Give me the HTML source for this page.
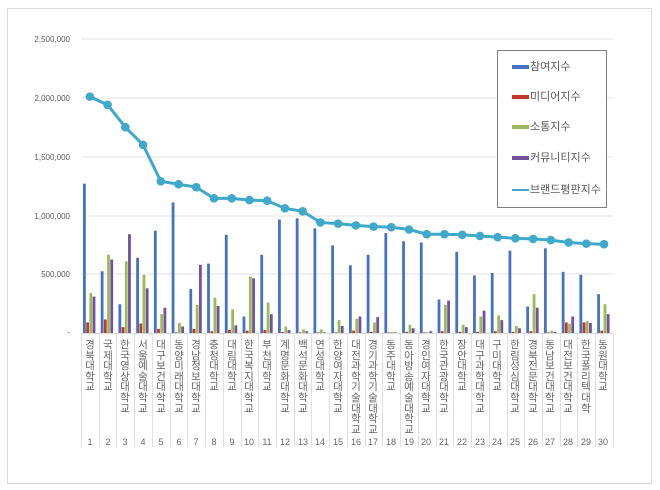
<!DOCTYPE html>
<html><head><meta charset="utf-8">
<style>
body{margin:0;background:#fff;width:660px;height:490px;overflow:hidden;font-family:"Liberation Sans","Noto Sans CJK KR",sans-serif;}
#frame{position:absolute;left:7px;top:8px;width:643px;height:474px;border:1px solid #d9d9d9;}
.yl{position:absolute;left:20px;width:50px;text-align:right;font-size:8px;color:#595959;}
.cl{position:absolute;top:340px;width:18px;text-align:center;font-size:10.5px;line-height:10.6px;color:#666;}
.num{position:absolute;top:437px;width:18px;text-align:center;font-size:9px;color:#666;}
#legend{position:absolute;left:497px;top:50px;width:108px;height:156px;border:1px solid #7f7f7f;background:#fff;font-size:11px;color:#595959;}
#legend div{position:absolute;left:14px;height:12px;line-height:12px;}
#legend span.sw{display:inline-block;width:17px;height:4px;vertical-align:middle;margin-right:1px;}
</style></head><body>
<div id="frame"></div>
<svg id="s" width="660" height="490" style="position:absolute;left:0;top:0"></svg>
<div class="yl" style="top:35px">2,500,000</div>
<div class="yl" style="top:94px">2,000,000</div>
<div class="yl" style="top:153px">1,500,000</div>
<div class="yl" style="top:212px">1,000,000</div>
<div class="yl" style="top:270px">500,000</div>
<div class="yl" style="top:328px">-</div>
<div class="cl" style="left:81px">경<br>북<br>대<br>학<br>교</div>
<div class="cl" style="left:99px">국<br>제<br>대<br>학<br>교</div>
<div class="cl" style="left:116px">한<br>국<br>영<br>상<br>대<br>학<br>교</div>
<div class="cl" style="left:134px">서<br>울<br>예<br>술<br>대<br>학<br>교</div>
<div class="cl" style="left:152px">대<br>구<br>보<br>건<br>대<br>학<br>교</div>
<div class="cl" style="left:170px">동<br>양<br>미<br>래<br>대<br>학<br>교</div>
<div class="cl" style="left:187px">경<br>남<br>정<br>보<br>대<br>학<br>교</div>
<div class="cl" style="left:205px">충<br>청<br>대<br>학<br>교</div>
<div class="cl" style="left:223px">대<br>림<br>대<br>학<br>교</div>
<div class="cl" style="left:240px">한<br>국<br>복<br>지<br>대<br>학<br>교</div>
<div class="cl" style="left:258px">부<br>천<br>대<br>학<br>교</div>
<div class="cl" style="left:276px">계<br>명<br>문<br>화<br>대<br>학<br>교</div>
<div class="cl" style="left:294px">백<br>석<br>문<br>화<br>대<br>학<br>교</div>
<div class="cl" style="left:311px">연<br>성<br>대<br>학<br>교</div>
<div class="cl" style="left:329px">한<br>양<br>여<br>자<br>대<br>학<br>교</div>
<div class="cl" style="left:347px">대<br>전<br>과<br>학<br>기<br>술<br>대<br>학<br>교</div>
<div class="cl" style="left:364px">경<br>기<br>과<br>학<br>기<br>술<br>대<br>학<br>교</div>
<div class="cl" style="left:382px">동<br>주<br>대<br>학<br>교</div>
<div class="cl" style="left:400px">동<br>아<br>방<br>송<br>예<br>술<br>대<br>학<br>교</div>
<div class="cl" style="left:417px">경<br>인<br>여<br>자<br>대<br>학<br>교</div>
<div class="cl" style="left:435px">한<br>국<br>관<br>광<br>대<br>학<br>교</div>
<div class="cl" style="left:453px">장<br>안<br>대<br>학<br>교</div>
<div class="cl" style="left:471px">대<br>구<br>과<br>학<br>대<br>학<br>교</div>
<div class="cl" style="left:488px">구<br>미<br>대<br>학<br>교</div>
<div class="cl" style="left:506px">한<br>림<br>성<br>심<br>대<br>학<br>교</div>
<div class="cl" style="left:524px">경<br>북<br>전<br>문<br>대<br>학<br>교</div>
<div class="cl" style="left:541px">동<br>남<br>보<br>건<br>대<br>학<br>교</div>
<div class="cl" style="left:559px">대<br>전<br>보<br>건<br>대<br>학<br>교</div>
<div class="cl" style="left:577px">한<br>국<br>폴<br>리<br>텍<br>대<br>학</div>
<div class="cl" style="left:594px">동<br>원<br>대<br>학<br>교</div>
<div class="num" style="left:81px">1</div><div class="num" style="left:99px">2</div><div class="num" style="left:116px">3</div><div class="num" style="left:134px">4</div><div class="num" style="left:152px">5</div><div class="num" style="left:170px">6</div><div class="num" style="left:187px">7</div><div class="num" style="left:205px">8</div><div class="num" style="left:223px">9</div><div class="num" style="left:240px">10</div><div class="num" style="left:258px">11</div><div class="num" style="left:276px">12</div><div class="num" style="left:294px">13</div><div class="num" style="left:311px">14</div><div class="num" style="left:329px">15</div><div class="num" style="left:347px">16</div><div class="num" style="left:364px">17</div><div class="num" style="left:382px">18</div><div class="num" style="left:400px">19</div><div class="num" style="left:417px">20</div><div class="num" style="left:435px">21</div><div class="num" style="left:453px">22</div><div class="num" style="left:471px">23</div><div class="num" style="left:488px">24</div><div class="num" style="left:506px">25</div><div class="num" style="left:524px">26</div><div class="num" style="left:541px">27</div><div class="num" style="left:559px">28</div><div class="num" style="left:577px">29</div><div class="num" style="left:594px">30</div>
<div id="legend">
<div style="top:10px"><span class="sw" style="background:#4472c4"></span>참여지수</div>
<div style="top:40px"><span class="sw" style="background:#c0392b"></span>미디어지수</div>
<div style="top:70px"><span class="sw" style="background:#9bbb59"></span>소통지수</div>
<div style="top:101px"><span class="sw" style="background:#7151a0"></span>커뮤니티지수</div>
<div style="top:133px"><span class="sw" style="background:#3ea9c9;height:2px;position:relative"></span>브랜드평판지수</div>
</div>
<script>
var s=document.getElementById('s'),h='';
var x0=81,w=17.73,y0=333,sc=294/2500000;
[39,98,157,216,274].forEach(function(y){h+='<line x1="81" x2="613" y1="'+y+'" y2="'+y+'" stroke="#e3e3e3" stroke-width="1"/>';});
for(var i=0;i<=30;i++){var x=Math.round(x0+i*w)+0.5;h+='<line x1="'+x+'" x2="'+x+'" y1="333" y2="447" stroke="#e0e0e0"/>';}
h+='<line x1="81" x2="613" y1="333.5" y2="333.5" stroke="#d9d9d9"/>';
var B=[1270,525,245,640,870,1110,375,590,835,140,665,965,975,890,745,575,665,850,780,770,285,690,490,510,700,225,720,520,495,330];
var R=[90,115,50,80,35,5,35,15,25,20,25,8,5,5,5,20,10,5,10,5,15,10,10,15,10,15,5,90,90,20];
var G=[340,665,610,495,160,85,240,300,200,480,260,55,30,30,110,120,90,10,70,5,240,70,140,150,60,330,20,80,100,245];
var P=[310,625,840,380,215,55,580,230,65,465,160,25,15,5,60,140,135,5,40,15,275,50,190,110,40,215,10,140,85,160];
var L=[2010,1940,1750,1600,1290,1265,1240,1145,1145,1130,1125,1060,1035,940,930,915,905,900,880,840,840,835,825,815,805,800,790,770,760,755];
var cols=['#4472c4','#c0392b','#9bbb59','#7151a0'];
for(var i=0;i<30;i++){[B,R,G,P].forEach(function(a,k){var v=a[i]*1000*sc;h+='<rect x="'+(x0+i*w+2+k*3.2)+'" y="'+(y0-v)+'" width="2.8" height="'+v+'" fill="'+cols[k]+'"/>';});}
var pts=L.map(function(v,i){return (x0+i*w+w/2)+','+(y0-v*1000*sc);});
h+='<polyline points="'+pts.join(' ')+'" fill="none" stroke="#3ea9c9" stroke-width="3"/>';
pts.forEach(function(p){var q=p.split(',');h+='<circle cx="'+q[0]+'" cy="'+q[1]+'" r="4.3" fill="#3ea9c9"/>';});
s.innerHTML=h;
</script>
</body></html>
